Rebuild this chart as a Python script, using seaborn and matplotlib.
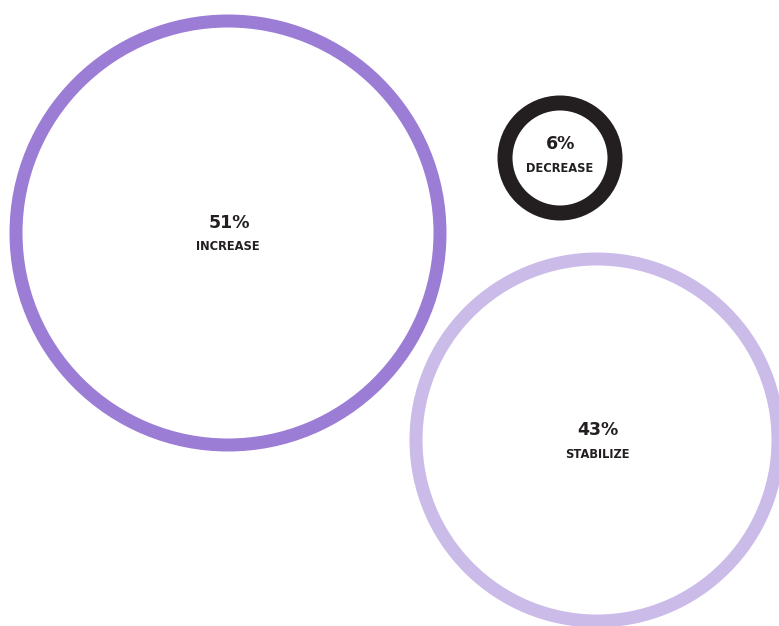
import matplotlib
matplotlib.use("Agg")
import matplotlib.pyplot as plt
from matplotlib.patches import Circle
import seaborn as sns

# Share of respondents by expected change
categories = ["INCREASE", "DECREASE", "STABILIZE"]
percents = [51, 6, 43]
ring_colors = ["#9b7dd6", "#231f20", "#cbbbe9"]

# Bubble layout in pixel space: centre x, centre y, ring radius (to stroke middle),
# stroke width, vertical shift of the label block
layout = {
    "INCREASE": (228, 233, 212, 13, 0),
    "DECREASE": (560, 158, 55, 15, -4),
    "STABILIZE": (597, 440, 181, 13, 0),
}

sns.set_theme(style="white")
plt.rcParams["font.family"] = ["DejaVu Sans"]

W, H = 779, 626
fig = plt.figure(figsize=(W / 100, H / 100), dpi=100)
ax = fig.add_axes([0, 0, 1, 1])
ax.set_xlim(0, W)
ax.set_ylim(H, 0)
ax.set_aspect("equal")
ax.axis("off")

px = 72 / 100  # points per pixel
for cat, pct, col in zip(categories, percents, ring_colors):
    cx, cy, r, lw, dy = layout[cat]
    ax.add_patch(Circle((cx, cy), r, fill=False, edgecolor=col, linewidth=lw * px))
    ax.text(cx + 1, cy - 10 + dy, f"{pct}%", ha="center", va="center",
            fontsize=12.5, fontweight="bold", color="#231f20")
    ax.text(cx, cy + 14 + dy, cat, ha="center", va="center",
            fontsize=8.3, fontweight="bold", color="#231f20")

fig.savefig("out.png", dpi=100)
